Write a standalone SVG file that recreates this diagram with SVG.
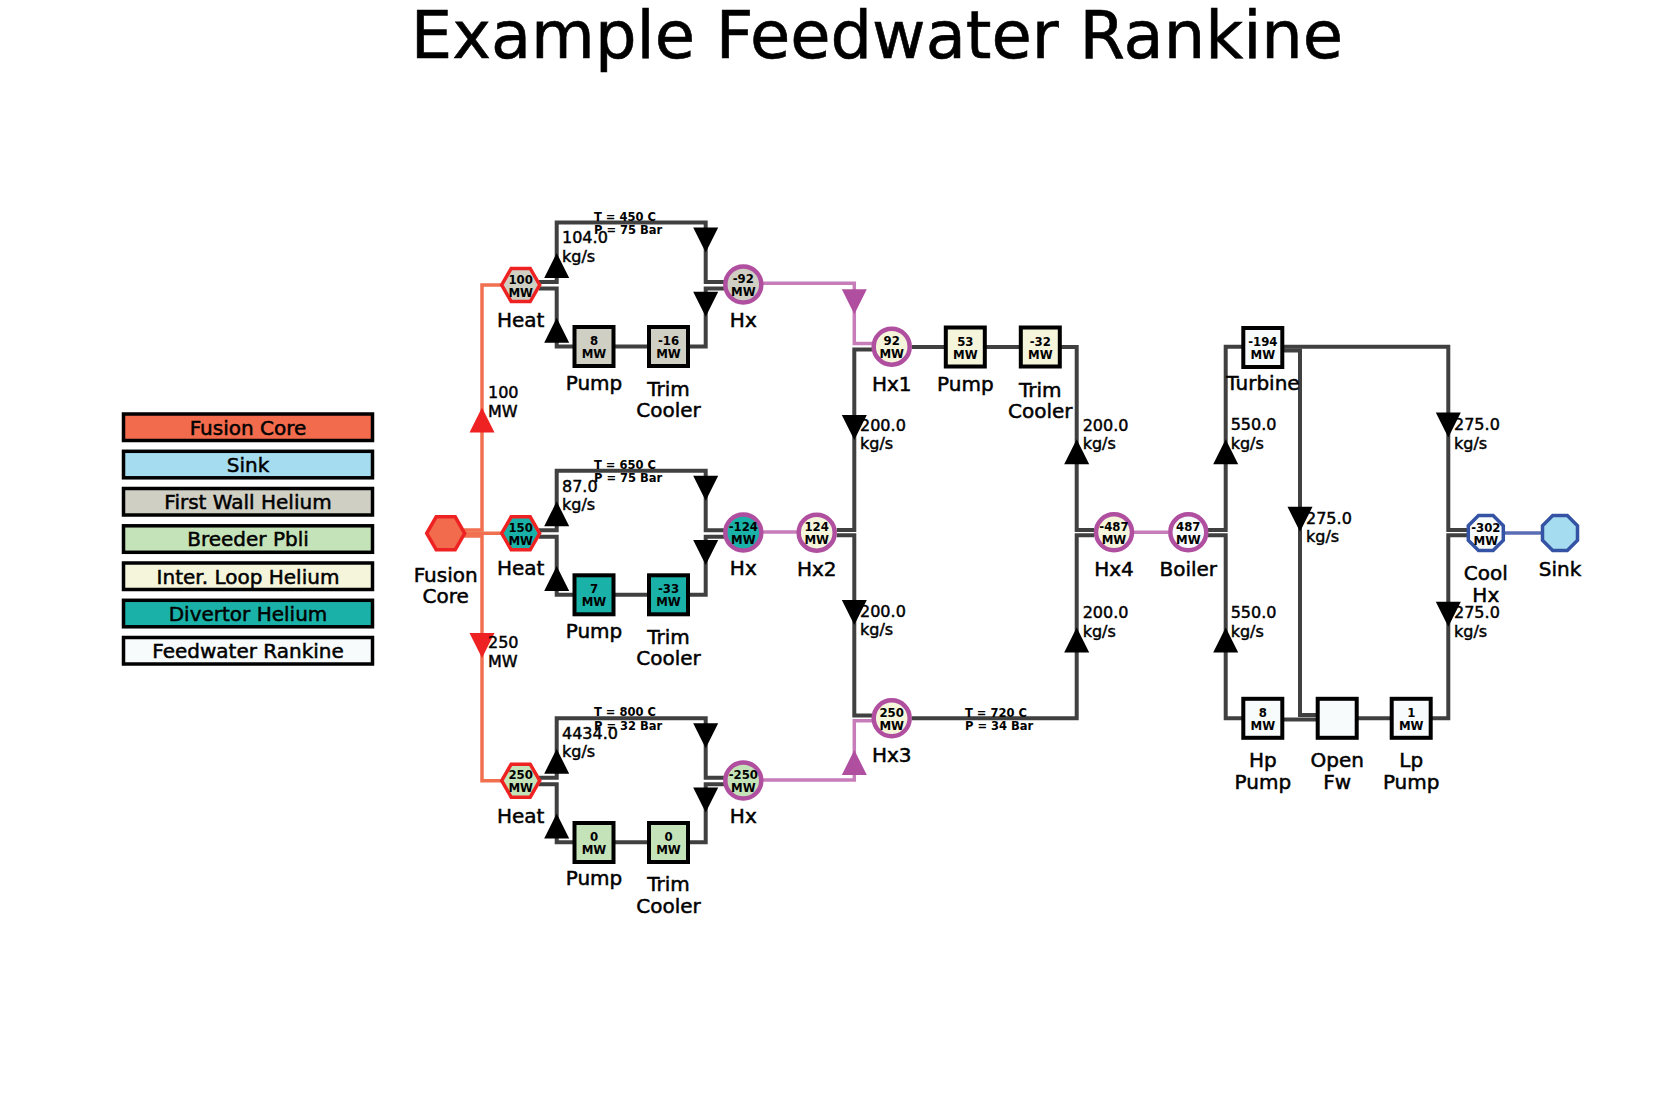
<svg xmlns="http://www.w3.org/2000/svg" xmlns:xlink="http://www.w3.org/1999/xlink" width="1667" height="1112" viewBox="0 0 1667 1112">
<style>
text{font-family:"DejaVu Sans","Liberation Sans",sans-serif;fill:#000}
.title{font-size:65.5px;text-anchor:middle;stroke:#000;stroke-width:0.6}
.lbl{font-size:20px;text-anchor:middle;stroke:#000;stroke-width:0.5}
.leg{font-size:20px;text-anchor:middle;stroke:#000;stroke-width:0.5}
.val{font-size:13px;font-weight:bold;text-anchor:middle;font-stretch:condensed}
.flow{font-size:16px;stroke:#000;stroke-width:0.45}
.tp{font-size:11.5px;font-weight:bold}
.ln{fill:none;stroke:#404040;stroke-width:4}
.or{fill:none;stroke:#f07050;stroke-width:3.5}
.mg{fill:none;stroke:#c77dba;stroke-width:3.5}
.bl{fill:none;stroke:#5a6db3;stroke-width:3.5}
.box{stroke:#000;stroke-width:4}
.hx{stroke:#b04fa0;stroke-width:4.5}
.hexn{stroke:#ee2222;stroke-width:3.5}
.oct{stroke:#3453a5;stroke-width:3.5}
.lg{stroke:#000;stroke-width:3.5}
.fc{fill:#f26b4c}.sk{fill:#a6dcef}.fw{fill:#cfcfc4}.br{fill:#c5e3b8}.il{fill:#f5f5dc}.dv{fill:#1ab2a8}.rk{fill:#f7fbfb}
.ak{fill:#000}.ar{fill:#ee2222}.am{fill:#b04fa0}
</style>
<defs>
<path id="up" d="M0,-12.5 L12.5,12.5 L-12.5,12.5 Z"/>
<path id="dn" d="M0,12.5 L12.5,-12.5 L-12.5,-12.5 Z"/>
<polygon id="hex" points="19,0 9.5,-16.5 -9.5,-16.5 -19,0 -9.5,16.5 9.5,16.5"/>
<polygon id="oct" points="17.5,-7.3 7.3,-17.5 -7.3,-17.5 -17.5,-7.3 -17.5,7.3 -7.3,17.5 7.3,17.5 17.5,7.3"/>
<rect id="bx" x="-19.5" y="-19.5" width="39" height="39"/>
</defs>

<text class="title" x="877" y="58">Example Feedwater Rankine</text>

<g id="legend">
<rect class="lg fc" x="123.5" y="414" width="249" height="26.5"/><text class="leg" x="248" y="434.5">Fusion Core</text>
<rect class="lg sk" x="123.5" y="451.3" width="249" height="26.5"/><text class="leg" x="248" y="471.8">Sink</text>
<rect class="lg fw" x="123.5" y="488.5" width="249" height="26.5"/><text class="leg" x="248" y="509">First Wall Helium</text>
<rect class="lg br" x="123.5" y="525.8" width="249" height="26.5"/><text class="leg" x="248" y="546.3">Breeder Pbli</text>
<rect class="lg il" x="123.5" y="563" width="249" height="26.5"/><text class="leg" x="248" y="583.5">Inter. Loop Helium</text>
<rect class="lg dv" x="123.5" y="600.3" width="249" height="26.5"/><text class="leg" x="248" y="620.8">Divertor Helium</text>
<rect class="lg rk" x="123.5" y="637.5" width="249" height="26.5"/><text class="leg" x="248" y="658">Feedwater Rankine</text>
</g>

<g id="connectors">
<path class="or" d="M464 530 H482 V285 H502"/>
<path class="or" d="M464 533.3 H502"/>
<path class="or" d="M464 536 H482 V780.7 H502"/>
<use href="#up" x="482" y="420" class="ar"/>
<use href="#dn" x="482" y="645.5" class="ar"/>
<text class="flow" x="488" y="398.3">100</text><text class="flow" x="488" y="416.7">MW</text>
<text class="flow" x="488" y="648">250</text><text class="flow" x="488" y="666.7">MW</text>

<path class="ln" d="M539 282 H556.7 V222.5 H705.7 V282 H724"/>
<path class="ln" d="M724 288.5 H705.7 V346.5 H556.7 V288.5 H539"/>
<use href="#up" x="556.7" y="265.5" class="ak"/>
<use href="#up" x="556.7" y="330.3" class="ak"/>
<use href="#dn" x="705.7" y="240" class="ak"/>
<use href="#dn" x="705.7" y="304.2" class="ak"/>
<text class="tp" x="594" y="220.5">T = 450 C</text><text class="tp" x="594" y="234">P = 75 Bar</text>
<text class="flow" x="562" y="243.3">104.0</text><text class="flow" x="562" y="261.7">kg/s</text>

<path class="ln" d="M539 530.3 H556.7 V470.8 H705.7 V530.3 H724"/>
<path class="ln" d="M724 536.8 H705.7 V594.8 H556.7 V536.8 H539"/>
<use href="#up" x="556.7" y="513.8" class="ak"/>
<use href="#up" x="556.7" y="578.6" class="ak"/>
<use href="#dn" x="705.7" y="488.3" class="ak"/>
<use href="#dn" x="705.7" y="552.5" class="ak"/>
<text class="tp" x="594" y="468.8">T = 650 C</text><text class="tp" x="594" y="482.3">P = 75 Bar</text>
<text class="flow" x="562" y="491.6">87.0</text><text class="flow" x="562" y="510">kg/s</text>

<path class="ln" d="M539 777.7 H556.7 V718.2 H705.7 V777.7 H724"/>
<path class="ln" d="M724 784.2 H705.7 V842.2 H556.7 V784.2 H539"/>
<use href="#up" x="556.7" y="761.2" class="ak"/>
<use href="#up" x="556.7" y="826" class="ak"/>
<use href="#dn" x="705.7" y="735.7" class="ak"/>
<use href="#dn" x="705.7" y="799.9" class="ak"/>
<text class="tp" x="594" y="716.2">T = 800 C</text><text class="tp" x="594" y="729.7">P = 32 Bar</text>
<text class="flow" x="562" y="739">4434.0</text><text class="flow" x="562" y="757.4">kg/s</text>

<path class="mg" d="M763 283.3 H854.3 V343.5 H872"/>
<use href="#dn" x="854.3" y="301.7" class="am"/>
<path class="mg" d="M763 532 H797"/>
<path class="mg" d="M763 780 H854.3 V720.8 H872"/>
<use href="#up" x="854.3" y="762.5" class="am"/>

<path class="ln" d="M872 349.5 H854.3 V530 H836.7"/>
<path class="ln" d="M836.7 535.3 H854.3 V715.5 H872"/>
<path class="ln" d="M911.7 718.3 H1076.7 V535.3 H1094"/>
<path class="ln" d="M1094 530 H1076.7 V347 H1060"/>
<path class="ln" d="M1020.7 347 H985"/>
<path class="ln" d="M945.7 347 H911.7"/>
<use href="#dn" x="854.3" y="427.5" class="ak"/>
<use href="#dn" x="854.3" y="612.5" class="ak"/>
<use href="#up" x="1076.7" y="451.7" class="ak"/>
<use href="#up" x="1076.7" y="640" class="ak"/>
<text class="flow" x="860" y="430.7">200.0</text><text class="flow" x="860" y="449">kg/s</text>
<text class="flow" x="860" y="616.7">200.0</text><text class="flow" x="860" y="635">kg/s</text>
<text class="flow" x="1082.7" y="430.7">200.0</text><text class="flow" x="1082.7" y="449">kg/s</text>
<text class="flow" x="1082.7" y="618">200.0</text><text class="flow" x="1082.7" y="636.5">kg/s</text>
<text class="tp" x="965" y="716.7">T = 720 C</text><text class="tp" x="965" y="730">P = 34 Bar</text>

<path class="mg" d="M1134 532.3 H1168"/>
<path class="ln" d="M1208 530 H1225.7 V346.7 H1243"/>
<path class="ln" d="M1282.5 346.7 H1448.3 V530 H1467"/>
<path class="ln" d="M1282.5 350.5 H1300 V715 H1318"/>
<path class="ln" d="M1467 535.3 H1448.3 V718.3 H1430.7"/>
<path class="ln" d="M1391.7 718.3 H1356.7"/>
<path class="ln" d="M1317.7 719.5 H1282.3"/>
<path class="ln" d="M1243.3 718.3 H1225.7 V535.3 H1208"/>
<path class="bl" d="M1504 533 H1542"/>
<use href="#up" x="1225.7" y="451.7" class="ak"/>
<use href="#up" x="1225.7" y="640" class="ak"/>
<use href="#dn" x="1300" y="519.3" class="ak"/>
<use href="#dn" x="1448.3" y="425" class="ak"/>
<use href="#dn" x="1448.3" y="614.3" class="ak"/>
<text class="flow" x="1230.7" y="430">550.0</text><text class="flow" x="1230.7" y="449">kg/s</text>
<text class="flow" x="1230.7" y="618.3">550.0</text><text class="flow" x="1230.7" y="636.7">kg/s</text>
<text class="flow" x="1306" y="524">275.0</text><text class="flow" x="1306" y="541.7">kg/s</text>
<text class="flow" x="1454" y="430">275.0</text><text class="flow" x="1454" y="449">kg/s</text>
<text class="flow" x="1454" y="618.3">275.0</text><text class="flow" x="1454" y="636.7">kg/s</text>
</g>

<g id="fusion-core"><use href="#hex" x="445.7" y="533.3" class="hexn fc"/><text class="lbl" x="445.7" y="581.7">Fusion</text><text class="lbl" x="445.7" y="603.3">Core</text></g>

<g id="heat-fw"><use href="#hex" x="520.7" y="285" class="hexn fw"/><text class="val" x="520.7" y="283.5">100</text><text class="val" x="520.7" y="296.5">MW</text><text class="lbl" x="520.7" y="326.7">Heat</text></g>
<g id="pump-fw"><use href="#bx" x="594" y="346.5" class="box fw"/><text class="val" x="594" y="345">8</text><text class="val" x="594" y="358">MW</text><text class="lbl" x="594" y="390">Pump</text></g>
<g id="trim-fw"><use href="#bx" x="668.5" y="346.5" class="box fw"/><text class="val" x="668.5" y="345">-16</text><text class="val" x="668.5" y="358">MW</text><text class="lbl" x="668.5" y="395.5">Trim</text><text class="lbl" x="668.5" y="417">Cooler</text></g>
<g id="hx-fw"><circle cx="743.3" cy="284.5" r="18" class="hx fw"/><text class="val" x="743.3" y="283">-92</text><text class="val" x="743.3" y="296">MW</text><text class="lbl" x="743.3" y="326.7">Hx</text></g>

<g id="heat-dv"><use href="#hex" x="520.7" y="533.3" class="hexn dv"/><text class="val" x="520.7" y="531.8">150</text><text class="val" x="520.7" y="544.8">MW</text><text class="lbl" x="520.7" y="575">Heat</text></g>
<g id="pump-dv"><use href="#bx" x="594" y="594.8" class="box dv"/><text class="val" x="594" y="593.3">7</text><text class="val" x="594" y="606.3">MW</text><text class="lbl" x="594" y="637.5">Pump</text></g>
<g id="trim-dv"><use href="#bx" x="668.5" y="594.8" class="box dv"/><text class="val" x="668.5" y="593.3">-33</text><text class="val" x="668.5" y="606.3">MW</text><text class="lbl" x="668.5" y="643.5">Trim</text><text class="lbl" x="668.5" y="665">Cooler</text></g>
<g id="hx-dv"><circle cx="743.3" cy="532.5" r="18" class="hx dv"/><text class="val" x="743.3" y="531">-124</text><text class="val" x="743.3" y="544">MW</text><text class="lbl" x="743.3" y="575">Hx</text></g>

<g id="heat-br"><use href="#hex" x="520.7" y="780.7" class="hexn br"/><text class="val" x="520.7" y="779.2">250</text><text class="val" x="520.7" y="792.2">MW</text><text class="lbl" x="520.7" y="822.5">Heat</text></g>
<g id="pump-br"><use href="#bx" x="594" y="842.5" class="box br"/><text class="val" x="594" y="841">0</text><text class="val" x="594" y="854">MW</text><text class="lbl" x="594" y="885">Pump</text></g>
<g id="trim-br"><use href="#bx" x="668.5" y="842.5" class="box br"/><text class="val" x="668.5" y="841">0</text><text class="val" x="668.5" y="854">MW</text><text class="lbl" x="668.5" y="891">Trim</text><text class="lbl" x="668.5" y="912.5">Cooler</text></g>
<g id="hx-br"><circle cx="743.3" cy="780.5" r="18" class="hx br"/><text class="val" x="743.3" y="779">-250</text><text class="val" x="743.3" y="792">MW</text><text class="lbl" x="743.3" y="822.5">Hx</text></g>

<g id="hx1"><circle cx="891.7" cy="346.7" r="18" class="hx il"/><text class="val" x="891.7" y="345.2">92</text><text class="val" x="891.7" y="358.2">MW</text><text class="lbl" x="891.7" y="390.7">Hx1</text></g>
<g id="pump-il"><use href="#bx" x="965.3" y="347" class="box il"/><text class="val" x="965.3" y="345.5">53</text><text class="val" x="965.3" y="358.5">MW</text><text class="lbl" x="965.3" y="390.7">Pump</text></g>
<g id="trim-il"><use href="#bx" x="1040.3" y="347" class="box il"/><text class="val" x="1040.3" y="345.5">-32</text><text class="val" x="1040.3" y="358.5">MW</text><text class="lbl" x="1040.3" y="396.7">Trim</text><text class="lbl" x="1040.3" y="418.3">Cooler</text></g>
<g id="hx2"><circle cx="816.7" cy="532.7" r="18" class="hx il"/><text class="val" x="816.7" y="531.2">124</text><text class="val" x="816.7" y="544.2">MW</text><text class="lbl" x="816.7" y="575.7">Hx2</text></g>
<g id="hx3"><circle cx="891.7" cy="718.3" r="18" class="hx il"/><text class="val" x="891.7" y="716.8">250</text><text class="val" x="891.7" y="729.8">MW</text><text class="lbl" x="891.7" y="761.7">Hx3</text></g>
<g id="hx4"><circle cx="1114" cy="532.3" r="18" class="hx il"/><text class="val" x="1114" y="530.8">-487</text><text class="val" x="1114" y="543.8">MW</text><text class="lbl" x="1114" y="576">Hx4</text></g>

<g id="boiler"><circle cx="1188.3" cy="532.3" r="18" class="hx rk"/><text class="val" x="1188.3" y="530.8">487</text><text class="val" x="1188.3" y="543.8">MW</text><text class="lbl" x="1188.3" y="576">Boiler</text></g>
<g id="turbine"><use href="#bx" x="1262.8" y="347.5" class="box rk"/><text class="val" x="1262.8" y="346">-194</text><text class="val" x="1262.8" y="359">MW</text><text class="lbl" x="1263" y="390">Turbine</text></g>
<g id="hp-pump"><use href="#bx" x="1262.8" y="718.3" class="box rk"/><text class="val" x="1262.8" y="716.8">8</text><text class="val" x="1262.8" y="729.8">MW</text><text class="lbl" x="1262.8" y="766.7">Hp</text><text class="lbl" x="1262.8" y="789">Pump</text></g>
<g id="open-fw"><use href="#bx" x="1337.2" y="718.3" class="box rk"/><text class="lbl" x="1337.2" y="766.7">Open</text><text class="lbl" x="1337.2" y="789">Fw</text></g>
<g id="lp-pump"><use href="#bx" x="1411.2" y="718.3" class="box rk"/><text class="val" x="1411.2" y="716.8">1</text><text class="val" x="1411.2" y="729.8">MW</text><text class="lbl" x="1411.2" y="766.7">Lp</text><text class="lbl" x="1411.2" y="789">Pump</text></g>
<g id="cool-hx"><use href="#oct" x="1485.8" y="533" class="oct rk"/><text class="val" x="1485.8" y="531.5">-302</text><text class="val" x="1485.8" y="544.5">MW</text><text class="lbl" x="1485.8" y="580">Cool</text><text class="lbl" x="1485.8" y="601.7">Hx</text></g>
<g id="sink"><use href="#oct" x="1560" y="533" class="oct sk"/><text class="lbl" x="1560" y="576">Sink</text></g>
</svg>
